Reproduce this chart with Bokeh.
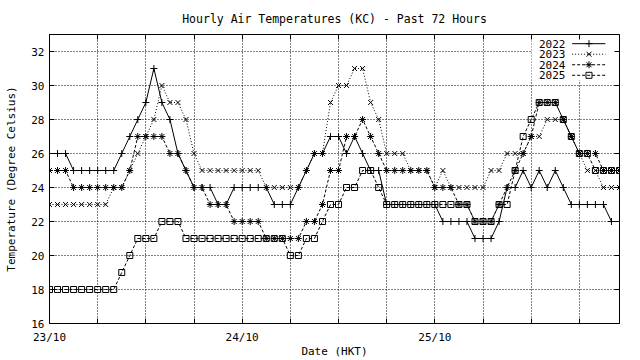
from bokeh.plotting import figure
from bokeh.models import Range1d, LinearAxis, FixedTicker
from bokeh.core.properties import value
from bokeh.embed import file_html
from bokeh.resources import INLINE

# ---- data (hourly, 23/10 00:00 .. 25/10 23:00 HKT) ----
hours = list(range(72))
t2022 = [26, 26, 26, 25, 25, 25, 25, 25, 25, 26, 27, 28, 29, 31, 29, 28, 26, 25,
         24, 24, 24, 23, 23, 24, 24, 24, 24, 24, 23, 23, 23, 24, 25, 26, 26, 27,
         27, 26, 27, 26, 25, 25, 23, 23, 23, 23, 23, 23, 23, 22, 22, 22, 22, 21,
         21, 21, 22, 24, 24, 25, 24, 25, 24, 25, 24, 23, 23, 23, 23, 23, 22, 22]
t2023 = [23, 23, 23, 23, 23, 23, 23, 23, 24, 24, 25, 26, 27, 28, 30, 29, 29, 28,
         26, 25, 25, 25, 25, 25, 25, 25, 25, 24, 24, 24, 24, 24, 25, 26, 26, 29,
         30, 30, 31, 31, 29, 28, 26, 26, 26, 25, 25, 25, 24, 25, 24, 24, 24, 24,
         24, 25, 25, 26, 26, 26, 27, 27, 28, 28, 28, 27, 26, 25, 25, 24, 24, 24]
t2024 = [25, 25, 25, 24, 24, 24, 24, 24, 24, 24, 25, 27, 27, 27, 27, 26, 26, 25,
         24, 24, 23, 23, 23, 22, 22, 22, 22, 21, 21, 21, 21, 21, 22, 22, 23, 25,
         25, 27, 27, 28, 27, 26, 25, 25, 25, 25, 25, 25, 24, 24, 24, 23, 23, 22,
         22, 22, 23, 24, 25, 26, 27, 29, 29, 29, 28, 27, 26, 26, 26, 25, 25, 25]
t2025 = [18, 18, 18, 18, 18, 18, 18, 18, 18, 19, 20, 21, 21, 21, 22, 22, 22, 21,
         21, 21, 21, 21, 21, 21, 21, 21, 21, 21, 21, 21, 20, 20, 21, 21, 22, 23,
         23, 24, 24, 25, 25, 24, 23, 23, 23, 23, 23, 23, 23, 23, 23, 23, 23, 22,
         22, 22, 23, 23, 25, 27, 28, 29, 29, 29, 28, 27, 26, 26, 25, 25, 25, 25]
series_names = ["2022", "2023", "2024", "2025"]
x_ticks = [0, 6, 12, 18, 24, 30, 36, 42, 48, 54, 60, 66]
date_ticks = [0, 24, 48]
date_labels = ["23/10", "24/10", "25/10"]
y_ticks = [16, 18, 20, 22, 24, 26, 28, 30, 32]

FONT = "DejaVu Sans Mono"
FS = "11px"

p = figure(width=640, height=360, x_range=Range1d(0, 71), y_range=Range1d(16, 33),
           output_backend="svg", toolbar_location=None,
           min_border_left=49, min_border_right=21, min_border_top=33, min_border_bottom=36,
           title="Hourly Air Temperatures (KC) - Past 72 Hours")
p.background_fill_color = "white"
p.border_fill_color = "white"
p.outline_line_color = "black"
p.outline_line_width = 1

p.title.text_font = FONT
p.title.text_font_size = "11.5px"
p.title.text_font_style = "normal"
p.title.align = "center"
p.title.text_color = "black"
p.title.standoff = 18

xt = FixedTicker(ticks=x_ticks)
yt = FixedTicker(ticks=y_ticks)


def tick_only(ax):
    ax.major_tick_in = 5
    ax.major_tick_out = 0
    ax.minor_tick_in = 0
    ax.minor_tick_out = 0
    ax.axis_line_color = "black"
    ax.major_tick_line_color = "black"
    ax.major_label_text_font_size = "0px"
    ax.major_label_text_color = None
    ax.major_label_standoff = 0


# bottom: tick marks every 6 h (no labels)
xa = p.xaxis[0]
xa.ticker = xt
tick_only(xa)

# bottom: date labels
xd = LinearAxis(ticker=FixedTicker(ticks=date_ticks),
                major_label_overrides=dict(zip(date_ticks, date_labels)))
xd.major_tick_in = 0
xd.major_tick_out = 0
xd.minor_tick_in = 0
xd.minor_tick_out = 0
xd.axis_line_color = None
xd.major_label_text_font = FONT
xd.major_label_text_font_size = FS
xd.major_label_text_color = "black"
xd.major_label_standoff = 7
xd.axis_label = "Date (HKT)"
xd.axis_label_text_font = FONT
xd.axis_label_text_font_size = FS
xd.axis_label_text_font_style = "normal"
xd.axis_label_text_color = "black"
xd.axis_label_standoff = -2
p.add_layout(xd, "below")

ya = p.yaxis[0]
ya.ticker = yt
ya.major_tick_in = 5
ya.major_tick_out = 0
ya.minor_tick_in = 0
ya.minor_tick_out = 0
ya.axis_line_color = "black"
ya.major_tick_line_color = "black"
ya.major_label_text_font = FONT
ya.major_label_text_font_size = FS
ya.major_label_text_color = "black"
ya.major_label_standoff = 5
ya.axis_label = "Temperature (Degree Celsius)"
ya.axis_label_text_font = FONT
ya.axis_label_text_font_size = FS
ya.axis_label_text_font_style = "normal"
ya.axis_label_text_color = "black"
ya.axis_label_standoff = 10

ax_r = LinearAxis(ticker=yt)
tick_only(ax_r)
p.add_layout(ax_r, "right")
ax_t = LinearAxis(ticker=xt)
tick_only(ax_t)
p.add_layout(ax_t, "above")

p.xgrid.ticker = xt
p.ygrid.ticker = yt
p.grid.grid_line_color = "black"
p.grid.grid_line_dash = "1 2"
p.grid.grid_line_alpha = 1.0
p.grid.grid_line_width = 1

styles = [
    dict(dash="solid", marker="cross", size=7),
    dict(dash="1 2", marker="x", size=7),
    dict(dash="3 2", marker="asterisk", size=7),
    dict(dash="3 2", marker="square", size=6),
]
all_series = [t2022, t2023, t2024, t2025]

for vals, st in zip(all_series, styles):
    p.line(hours, vals, line_color="black", line_width=1, line_dash=st["dash"])
    p.scatter(hours, vals, marker=st["marker"], size=st["size"], line_color="black",
              fill_color=None, line_width=1)

# ---- key (top right, white background like gnuplot) ----
key_left, key_right, key_bottom, key_top = 60.05, 71, 30.3, 33
p.quad(left=[key_left], right=[key_right], bottom=[key_bottom], top=[key_top],
       fill_color="white", line_color=None)
text_x = 64.26
samp_x0, samp_x1, samp_xm = 65.1, 69.25, 67.2
row_top, row_step = 32.46, 0.62
rows = [row_top - i * row_step for i in range(len(series_names))]
p.text(x=[text_x] * 4, y=rows, text=series_names, text_align="right",
       text_baseline="middle", text_font=value(FONT), text_font_size=FS,
       text_color="black")
for yr, st in zip(rows, styles):
    p.line([samp_x0, samp_x1], [yr, yr], line_color="black", line_width=1,
           line_dash=st["dash"])
    p.scatter([samp_xm], [yr], marker=st["marker"], size=st["size"], line_color="black",
              fill_color=None, line_width=1)

open("out.html", "w").write(file_html(p, INLINE))
